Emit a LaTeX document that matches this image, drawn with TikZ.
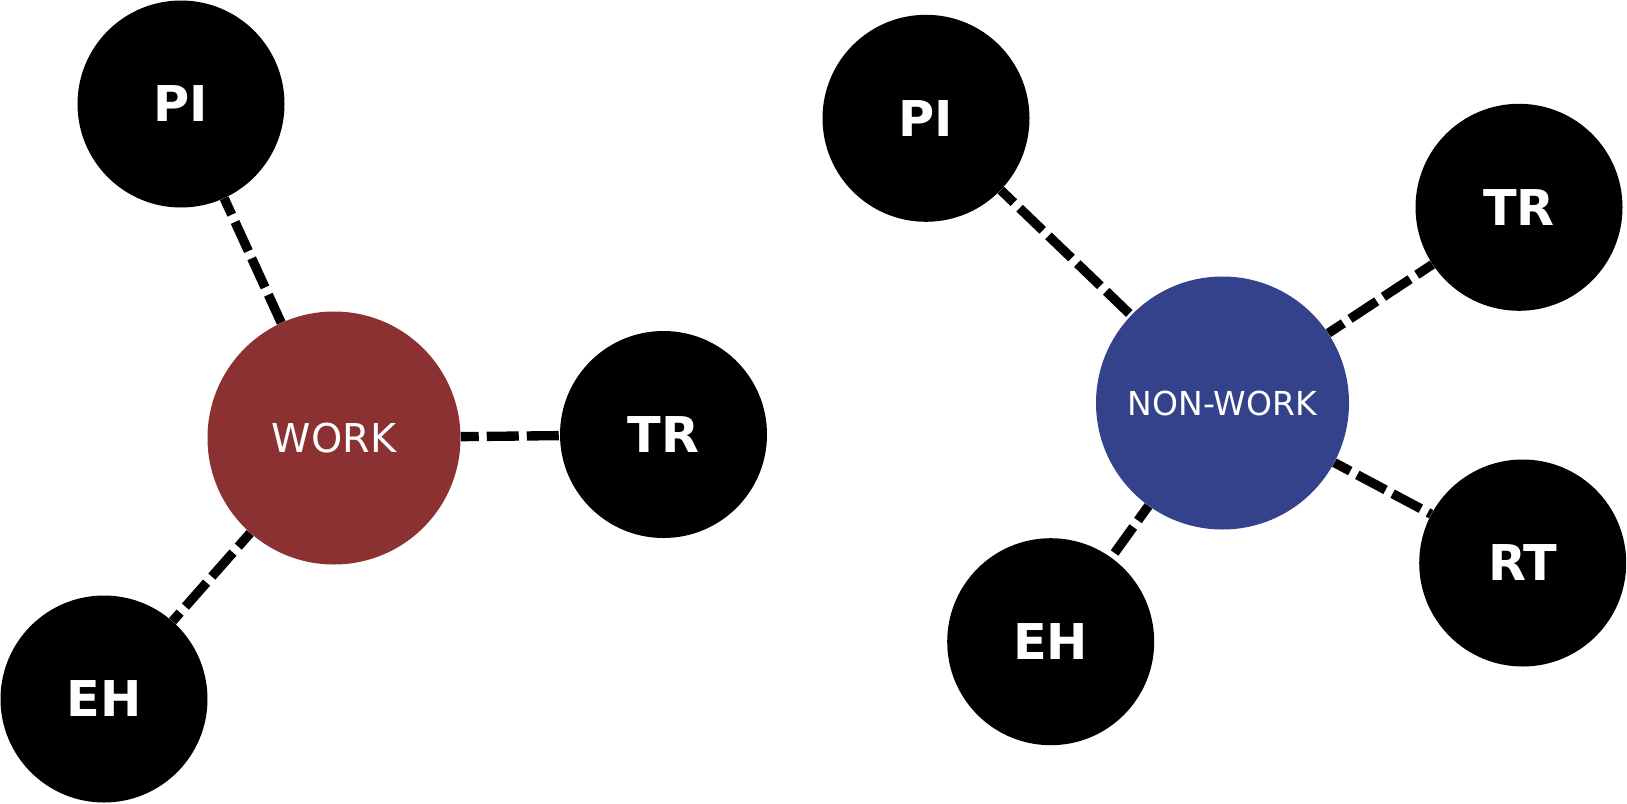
\documentclass[tikz,border=0pt]{standalone}
\usepackage{fontspec}
\setmainfont{DejaVu Sans}
\usetikzlibrary{backgrounds}

\definecolor{trabalho}{RGB}{139,49,50}
\definecolor{naotrabalho}{RGB}{51,66,138}

\tikzset{
  fator/.style={circle, fill=black, text=white, inner sep=0pt,
    minimum size=155.25pt, font=\bfseries\fontsize{37}{37}\selectfont},
  dominio/.style={circle, text=white, inner sep=0pt, minimum size=189.75pt},
  liga/.style={line width=7pt, dash pattern=on 24pt off 6pt, dash phase=10.5pt}
}

\begin{document}
\begin{tikzpicture}[x=0.75pt, y=-0.75pt]
\useasboundingbox (0,0) rectangle (1627,803);

% Dominio trabalho
\node[dominio, fill=trabalho, font=\fontsize{29.8}{30}\selectfont] (work) at (334,438) {WORK};
\node[fator] (pil) at (181,104) {PI};
\node[fator] (trl) at (663.5,434.5) {TR};
\node[fator] (ehl) at (104,699) {EH};

% Dominio nao-trabalho
\node[dominio, fill=naotrabalho, font=\fontsize{24.75}{25}\selectfont] (nonwork) at (1222.5,403) {NON-WORK};
\node[fator] (pir) at (926,118.3) {PI};
\node[fator] (trr) at (1519,207.3) {TR};
\node[fator] (rt) at (1522.7,563) {RT};
\node[fator] (ehr) at (1050.7,641.7) {EH};

% Ligacoes tracejadas
\begin{scope}[on background layer]
\draw[liga] (pil) -- (work);
\draw[liga] (work) -- (trl);
\draw[liga] (work) -- (ehl);
\draw[liga] (pir) -- (nonwork);
\draw[liga] (nonwork) -- (trr);
\draw[liga] (nonwork) -- (rt);
\draw[liga] (nonwork) -- (ehr);
\end{scope}

\end{tikzpicture}
\end{document}
